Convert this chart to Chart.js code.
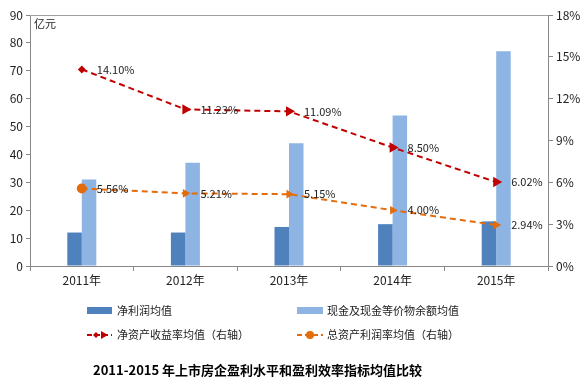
<!DOCTYPE html>
<html>
<head>
<meta charset="utf-8">
<script src="https://cdn.jsdelivr.net/npm/chart.js@4"></script>
<style>
  html, body { margin: 0; padding: 0; background: #fff; }
  #wrap { width: 587px; height: 385px; }
</style>
</head>
<body>
<div id="wrap"><canvas id="chart" width="587" height="385"></canvas></div>
<script>
const years = ['2011年', '2012年', '2013年', '2014年', '2015年'];
const netProfit = [12, 12, 14, 15, 16];
const cashBalance = [31, 37, 44, 54, 77];
const roe = [14.10, 11.23, 11.09, 8.50, 6.02];
const roa = [5.56, 5.21, 5.15, 4.00, 2.94];
const leftTicks = [0, 90, 10];
const rightTicks = [0, 18, 3];

const FONT = '"Noto Sans CJK SC", "Noto Sans", sans-serif';
const dark = '#4F81BD';
const light = '#8EB4E3';
const red = '#C00000';
const orange = '#E46C0A';

// labels next to the line points
const pointLabels = {
    id: 'pointLabels',
    afterDatasetsDraw(chart) {
        const ctx = chart.ctx;
        ctx.save();
        ctx.font = '11px ' + FONT;
        ctx.fillStyle = '#222';
        ctx.textBaseline = 'middle';
        [2, 3].forEach(i => {
            const meta = chart.getDatasetMeta(i);
            const vals = chart.data.datasets[i].data;
            meta.data.forEach((pt, j) => {
                ctx.fillText(vals[j].toFixed(2) + '%', pt.x + 15, pt.y);
            });
        });
        ctx.restore();
    }
};

// frame top line, unit label, legend and title
const extras = {
    id: 'extras',
    afterDraw(chart) {
        const ctx = chart.ctx;
        const a = chart.chartArea;
        ctx.save();
        ctx.strokeStyle = '#a0a0a0';
        ctx.lineWidth = 1;
        ctx.beginPath();
        ctx.moveTo(a.left, a.top + 0.5);
        ctx.lineTo(a.right, a.top + 0.5);
        ctx.stroke();

        ctx.fillStyle = '#222';
        ctx.font = '11px ' + FONT;
        ctx.textBaseline = 'middle';
        ctx.fillText('亿元', a.left + 4, a.top + 9);

        // legend
        const rows = [311, 335];
        const cols = [87, 297];
        ctx.fillStyle = dark;
        ctx.fillRect(cols[0], rows[0] - 4, 25, 7);
        ctx.fillStyle = light;
        ctx.fillRect(cols[1], rows[0] - 4, 26, 7);

        ctx.setLineDash([5, 3]);
        ctx.lineWidth = 2;
        ctx.strokeStyle = red;
        ctx.beginPath(); ctx.moveTo(cols[0], rows[1]); ctx.lineTo(cols[0] + 25, rows[1]); ctx.stroke();
        ctx.strokeStyle = orange;
        ctx.beginPath(); ctx.moveTo(cols[1], rows[1]); ctx.lineTo(cols[1] + 26, rows[1]); ctx.stroke();
        ctx.setLineDash([]);
        // red diamond + arrow
        ctx.fillStyle = red;
        ctx.beginPath();
        ctx.moveTo(cols[0] + 9, rows[1] - 3); ctx.lineTo(cols[0] + 12, rows[1]);
        ctx.lineTo(cols[0] + 9, rows[1] + 3); ctx.lineTo(cols[0] + 6, rows[1]);
        ctx.closePath(); ctx.fill();
        ctx.beginPath();
        ctx.moveTo(cols[0] + 14, rows[1] - 4); ctx.lineTo(cols[0] + 21, rows[1]);
        ctx.lineTo(cols[0] + 14, rows[1] + 4); ctx.closePath(); ctx.fill();
        // orange dot
        ctx.fillStyle = orange;
        ctx.beginPath(); ctx.arc(cols[1] + 13, rows[1], 4, 0, Math.PI * 2); ctx.fill();

        ctx.fillStyle = '#222';
        ctx.font = '11px ' + FONT;
        ctx.fillText('净利润均值', cols[0] + 30, rows[0]);
        ctx.fillText('现金及现金等价物余额均值', cols[1] + 30, rows[0]);
        ctx.fillText('净资产收益率均值（右轴）', cols[0] + 30, rows[1]);
        ctx.fillText('总资产利润率均值（右轴）', cols[1] + 30, rows[1]);

        ctx.fillStyle = '#000';
        ctx.font = 'bold 13px ' + FONT;
        ctx.fillText('2011-2015 年上市房企盈利水平和盈利效率指标均值比较', 93, 370);
        ctx.restore();
    }
};

new Chart(document.getElementById('chart'), {
    type: 'bar',
    data: {
        labels: years,
        datasets: [
            { label: '净利润均值', data: netProfit, backgroundColor: dark, yAxisID: 'y', order: 2 },
            { label: '现金及现金等价物余额均值', data: cashBalance, backgroundColor: light, yAxisID: 'y', order: 2 },
            {
                type: 'line', label: '净资产收益率均值（右轴）', data: roe, yAxisID: 'y1', order: 1,
                borderColor: red, backgroundColor: red, borderWidth: 2, borderDash: [6, 4],
                pointStyle: ['rectRot', 'triangle', 'triangle', 'triangle', 'triangle'],
                pointRotation: [0, 90, 90, 90, 90],
                pointRadius: [4, 6, 6, 6, 6], pointBorderWidth: 0
            },
            {
                type: 'line', label: '总资产利润率均值（右轴）', data: roa, yAxisID: 'y1', order: 1,
                borderColor: orange, backgroundColor: orange, borderWidth: 2, borderDash: [6, 4],
                pointStyle: ['circle', 'triangle', 'triangle', 'triangle', 'triangle'],
                pointRotation: [0, 90, 90, 90, 90],
                pointRadius: [5, 5, 5, 5, 5], pointBorderWidth: 0
            }
        ]
    },
    options: {
        responsive: false,
        animation: false,
        layout: { padding: { top: 15, bottom: 95, left: 0, right: 0 } },
        datasets: { bar: { categoryPercentage: 0.28, barPercentage: 1 } },
        plugins: { legend: { display: false }, tooltip: { enabled: false } },
        scales: {
            x: {
                grid: { offset: true, drawOnChartArea: false, tickLength: 5, color: '#888' },
                border: { color: '#888' },
                ticks: { color: '#222', font: { family: FONT, size: 12 }, padding: 2 },
                afterFit(s) { s.height = 24; }
            },
            y: {
                position: 'left',
                min: leftTicks[0], max: leftTicks[1],
                ticks: { stepSize: leftTicks[2], color: '#222', font: { family: FONT, size: 12 }, padding: 3 },
                grid: { drawOnChartArea: false, tickLength: 4, color: '#888' },
                border: { color: '#888' },
                afterFit(s) { s.width = 30; }
            },
            y1: {
                position: 'right',
                min: rightTicks[0], max: rightTicks[1],
                ticks: { stepSize: rightTicks[2], color: '#222', font: { family: FONT, size: 12 }, padding: 3,
                    callback: v => v + '%' },
                grid: { drawOnChartArea: false, tickLength: 5, color: '#888' },
                border: { color: '#888' },
                afterFit(s) { s.width = 39; }
            }
        }
    },
    plugins: [pointLabels, extras]
});
</script>
</body>
</html>
